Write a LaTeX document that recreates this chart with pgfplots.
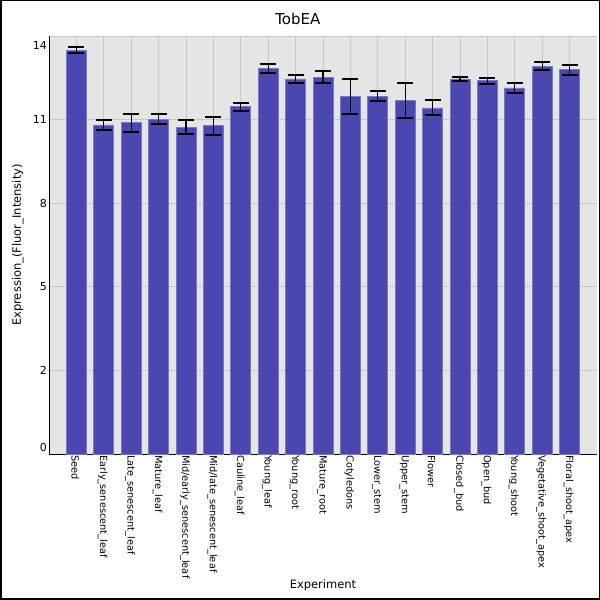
\documentclass[border=0pt]{standalone}
\usepackage{fontspec}
\setmainfont{DejaVu Sans}
\usepackage{pgfplots}
\pgfplotsset{compat=1.18}
\usepackage{pgfplotstable}
\definecolor{barfill}{HTML}{4B47B1}
\definecolor{baredge}{HTML}{7A77C9}
\definecolor{bgcol}{HTML}{E5E5E5}
\definecolor{gridcol}{HTML}{C8C8C8}
\pgfplotstableread{
x y e
0 13.53 0.09
1 11.02 0.17
2 11.09 0.31
3 11.21 0.17
4 10.95 0.22
5 10.99 0.29
6 11.63 0.13
7 12.92 0.15
8 12.56 0.13
9 12.62 0.21
10 11.98 0.59
11 11.99 0.16
12 11.83 0.59
13 11.59 0.25
14 12.56 0.08
15 12.50 0.10
16 12.26 0.17
17 12.99 0.14
18 12.87 0.16
}\datatab
\begin{document}
\begin{tikzpicture}
\useasboundingbox (0,0) rectangle (600pt,600pt);
\draw[line width=1.5pt] (0.75pt,0.75pt) rectangle (599.25pt,599.25pt);
\begin{axis}[
  at={(49pt,146pt)}, anchor=south west,
  scale only axis, width=548pt, height=418pt,
  xmin=-1, xmax=19, ymin=0, ymax=14,
  axis x line*=bottom, axis y line*=left,
  axis line style={black, line width=0.9pt},
  axis background/.style={fill=bgcol},
  grid=major, major grid style={gridcol, line width=0.9pt},
  major tick length=0pt,
  xtick={0,...,18},
  xticklabels={Seed,Early\_senescent\_leaf,Late\_senescent\_leaf,Mature\_leaf,Mid/early\_senescent\_leaf,Mid/late\_senescent\_leaf,Cauline\_leaf,Young\_leaf,Young\_root,Mature\_root,Cotyledons,Lower\_stem,Upper\_stem,Flower,Closed\_bud,Open\_bud,Young\_shoot,Vegetative\_shoot\_apex,Floral\_shoot\_apex},
  xticklabel style={rotate=-90, anchor=west, font=\fontsize{9.8}{11}\selectfont, inner sep=1pt, yshift=-1pt},
  ytick={0,2.8,5.6,8.4,11.2,14},
  yticklabels={{\raisebox{6.5pt}[\height][\depth]{0}},2,5,8,11,{\raisebox{-9pt}[\height][\depth]{14}}},
  yticklabel style={font=\fontsize{11}{13}\selectfont, anchor=east, inner sep=2pt},
  /pgf/number format/assume math mode=true,
  title={TobEA},
  title style={font=\fontsize{15}{17}\selectfont, at={(axis description cs:0.454,1.0239)}, anchor=base, yshift=-4pt},
  xlabel={Experiment},
  xlabel style={font=\fontsize{11.5}{13}\selectfont, at={(axis description cs:0.5,-0.3206)}, anchor=base},
  ylabel={Expression\_(Fluor\_Intensity)},
  ylabel style={font=\fontsize{11.5}{13}\selectfont, at={(axis description cs:-0.0566,0.5)}, anchor=center},
  clip=false,
]
\addplot[ybar, bar width=20pt, fill=barfill, draw=baredge, line width=0.8pt,
  error bars/.cd, y dir=both, y explicit,
  error bar style={black, line width=1.3pt},
  error mark options={black, rotate=90, line width=2pt, mark size=8pt}]
  table[x=x, y=y, y error=e] {\datatab};
\end{axis}
\end{tikzpicture}
\end{document}
